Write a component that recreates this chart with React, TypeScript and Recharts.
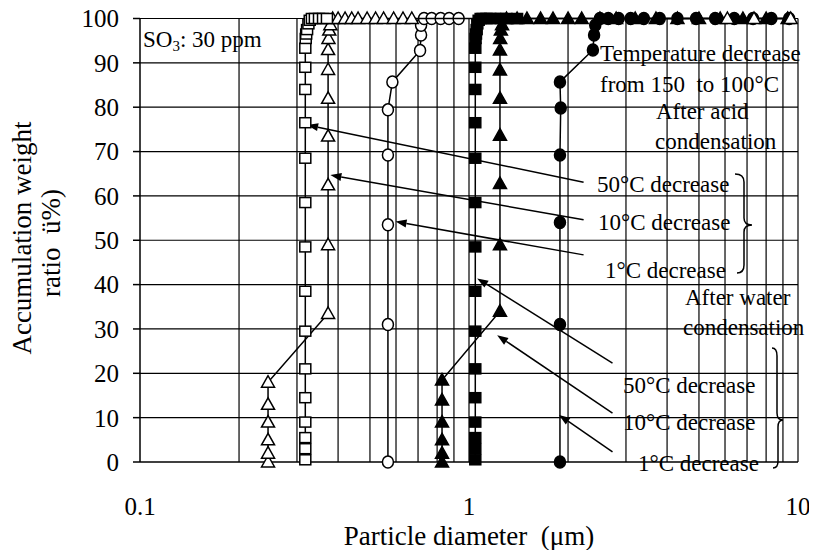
import React from "react";
import { ScatterChart, Scatter, XAxis, YAxis, ReferenceLine } from "recharts";

const FONT = "'Liberation Serif', 'Times New Roman', serif";

const xTicks = [0.1, 1, 10];
const yTicks = [0, 10, 20, 30, 40, 50, 60, 70, 80, 90, 100];
const xGrid = [0.2, 0.3, 0.4, 0.5, 0.6, 0.7, 0.8, 0.9, 1, 2, 3, 4, 5, 6, 7, 8, 9, 10];
const yGrid = [10, 20, 30, 40, 50, 60, 70, 80, 90, 100];

// after acid condensation (open markers)
const acid50X = [0.318, 0.318, 0.318, 0.318, 0.318, 0.318, 0.318, 0.318, 0.318, 0.318, 0.318, 0.318, 0.318, 0.318, 0.318, 0.319, 0.32, 0.322, 0.325, 0.328, 0.333, 0.34, 0.35, 0.36, 0.37];
const acid50Y = [0.5, 3, 5.5, 9, 14.5, 21, 29.5, 38.5, 48.5, 58.5, 68.5, 76.5, 84, 89, 93.3, 95.5, 96.5, 97.5, 98.8, 99.6, 100, 100, 100, 100, 100];

const acid10X = [0.245, 0.245, 0.245, 0.245, 0.245, 0.245, 0.373, 0.373, 0.373, 0.373, 0.373, 0.373, 0.373, 0.374, 0.376, 0.379, 0.385, 0.4, 0.42, 0.44, 0.46, 0.49, 0.52, 0.55, 0.59, 0.63, 0.67, 6.1, 7.35, 9.5];
const acid10Y = [0, 2, 5, 9, 13, 18, 33.5, 49, 62.5, 73.5, 82, 88.5, 93, 95.5, 97.4, 98.6, 100, 100, 100, 100, 100, 100, 100, 100, 100, 100, 100, 100, 100, 100];

const acid1X = [0.567, 0.567, 0.567, 0.567, 0.567, 0.585, 0.71, 0.715, 0.715, 0.73, 0.77, 0.82, 0.87, 0.93];
const acid1Y = [0, 31, 53.5, 69.2, 79.4, 85.7, 92.8, 96.3, 98.5, 100, 100, 100, 100, 100];

// after water condensation (filled markers)
const water50X = [1.045, 1.045, 1.045, 1.045, 1.045, 1.045, 1.045, 1.045, 1.045, 1.045, 1.045, 1.045, 1.045, 1.045, 1.045, 1.047, 1.05, 1.055, 1.06, 1.07, 1.085, 1.1, 1.13, 1.16, 1.2, 1.25, 1.3, 1.4];
const water50Y = [0.5, 3, 5.5, 9, 14.5, 21, 29.5, 38.5, 48.5, 58.5, 68.5, 76.5, 84, 89, 93.3, 95.5, 96.5, 97.5, 98.8, 99.6, 100, 100, 100, 100, 100, 100, 100, 100];

const water10X = [0.828, 0.828, 0.828, 0.828, 0.828, 0.828, 1.242, 1.242, 1.242, 1.242, 1.242, 1.242, 1.242, 1.244, 1.25, 1.26, 1.3, 1.4, 1.5, 1.65, 1.8, 2.0, 2.2, 2.5, 2.8, 3.2, 3.7, 4.3, 5, 5.8, 6.8, 8, 9.3];
const water10Y = [0, 2, 5, 9, 14, 18.5, 34, 49, 62.8, 73.7, 82, 88.4, 92.9, 95.5, 97.4, 98.6, 100, 100, 100, 100, 100, 100, 100, 100, 100, 100, 100, 100, 100, 100, 100, 100, 100];

const water1X = [1.89, 1.89, 1.89, 1.89, 1.9, 1.89, 2.38, 2.4, 2.42, 2.5, 2.65, 2.85, 3.1, 3.4, 3.8, 4.3, 4.9, 5.6, 6.4, 7.3, 8.3, 9.4];
const water1Y = [0, 31, 54, 69.2, 79.8, 85.7, 92.9, 96.3, 98.5, 100, 100, 100, 100, 100, 100, 100, 100, 100, 100, 100, 100, 100];

// annotation arrows: tail -> tip
const arrowTailX = [2.23, 2.23, 2.23, 2.73, 2.73, 2.73];
const arrowTailY = [63.1, 54.6, 46.7, 22.3, 11.0, 2.3];
const arrowTipX = [0.322, 0.379, 0.598, 1.059, 1.218, 1.877];
const arrowTipY = [76.0, 64.7, 54.2, 41.4, 28.6, 10.6];

const zip = (xs: number[], ys: number[]) => xs.map((x, i) => ({ x, y: ys[i] }));

const lineStyle = { stroke: "#000", strokeWidth: 1.5 };

const square = (fill: string) => (p: any) => (
  <rect x={p.cx - 5.5} y={p.cy - 5} width={11} height={10} fill={fill} stroke="#000" strokeWidth={1.5} />
);
const triangle = (fill: string) => (p: any) => (
  <polygon
    points={`${p.cx},${p.cy - 6.5} ${p.cx - 6.5},${p.cy + 5} ${p.cx + 6.5},${p.cy + 5}`}
    fill={fill}
    stroke="#000"
    strokeWidth={1.5}
  />
);
const circle = (fill: string) => (p: any) => (
  <ellipse cx={p.cx} cy={p.cy} rx={5.5} ry={6} fill={fill} stroke="#000" strokeWidth={1.5} />
);

function Arrow(props: any) {
  const { x1, y1, x2, y2 } = props;
  if ([x1, y1, x2, y2].some((v) => typeof v !== "number" || isNaN(v))) return null;
  const dx = x2 - x1;
  const dy = y2 - y1;
  const len = Math.sqrt(dx * dx + dy * dy) || 1;
  const ux = dx / len;
  const uy = dy / len;
  const hl = 11;
  const hw = 4;
  const bx = x2 - ux * hl;
  const by = y2 - uy * hl;
  return (
    <g>
      <line x1={x1} y1={y1} x2={bx} y2={by} stroke="#000" strokeWidth={1.5} />
      <polygon
        points={`${x2},${y2} ${bx - uy * hw},${by + ux * hw} ${bx + uy * hw},${by - ux * hw}`}
        fill="#000"
      />
    </g>
  );
}

const noteStyle = { fontFamily: FONT, fontSize: 23, fill: "#000" } as const;

export default function App() {
  const tickStyle = { fontFamily: FONT, fontSize: 25, fill: "#000" };
  return (
    <div style={{ position: "relative", width: 817, height: 550, marginTop: -8, marginLeft: -8 }}>
      <ScatterChart width={817} height={550} margin={{ top: 18.5, right: 19, left: 80, bottom: 48 }}>
        <XAxis
          dataKey="x"
          type="number"
          scale="log"
          domain={[0.1, 10]}
          ticks={xTicks}
          allowDataOverflow
          tickLine={false}
          tickSize={0}
          tickMargin={35}
          height={40}
          axisLine={{ stroke: "#000", strokeWidth: 1.5 }}
          tick={tickStyle}
        />
        <YAxis
          dataKey="y"
          type="number"
          domain={[0, 100]}
          ticks={yTicks}
          interval={0}
          width={60}
          tickSize={7}
          tickMargin={14}
          tickLine={{ stroke: "#000", strokeWidth: 1.5 }}
          axisLine={{ stroke: "#000", strokeWidth: 1.5 }}
          tick={tickStyle}
        />
        {xGrid.map((v) => (
          <ReferenceLine key={`gx${v}`} x={v} stroke="#000" strokeWidth={1.2} ifOverflow="visible" />
        ))}
        {yGrid.map((v) => (
          <ReferenceLine key={`gy${v}`} y={v} stroke="#000" strokeWidth={1.2} ifOverflow="visible" />
        ))}
        {arrowTailX.map((_, i) => (
          <ReferenceLine
            key={`ar${i}`}
            segment={[
              { x: arrowTailX[i], y: arrowTailY[i] },
              { x: arrowTipX[i], y: arrowTipY[i] },
            ]}
            shape={<Arrow />}
            ifOverflow="visible"
          />
        ))}
        <Scatter data={zip(water10X, water10Y)} shape={triangle("#000")} line={lineStyle} isAnimationActive={false} />
        <Scatter data={zip(water1X, water1Y)} shape={circle("#000")} line={lineStyle} isAnimationActive={false} />
        <Scatter data={zip(water50X, water50Y)} shape={square("#000")} line={lineStyle} isAnimationActive={false} />
        <Scatter data={zip(acid1X, acid1Y)} shape={circle("#fff")} line={lineStyle} isAnimationActive={false} />
        <Scatter data={zip(acid10X, acid10Y)} shape={triangle("#fff")} line={lineStyle} isAnimationActive={false} />
        <Scatter data={zip(acid50X, acid50Y)} shape={square("#fff")} line={lineStyle} isAnimationActive={false} />
      </ScatterChart>
      <svg
        width={817}
        height={550}
        xmlSpace="preserve"
        style={{ position: "absolute", left: 0, top: 0, pointerEvents: "none" }}
      >
        <text x={143} y={47} style={noteStyle}>
          SO<tspan fontSize={15} dy={4}>3</tspan>
          <tspan dy={-4}>: 30 ppm</tspan>
        </text>
        <g style={noteStyle} dominantBaseline="central">
          <text x={600} y={53}>Temperature decrease</text>
          <text x={600} y={84} xmlSpace="preserve">{"from 150  to 100°C"}</text>
          <text x={656} y={111}>After acid</text>
          <text x={655} y={141}>condensation</text>
          <text x={597} y={184}>50°C decrease</text>
          <text x={598} y={222}>10°C decrease</text>
          <text x={605} y={270}>1°C decrease</text>
          <text x={685} y={297}>After water</text>
          <text x={683} y={327}>condensation</text>
          <text x={623} y={385}>50°C decrease</text>
          <text x={623} y={422}>10°C decrease</text>
          <text x={638} y={463}>1°C decrease</text>
        </g>
        <path
          d="M735,174 Q744,174 744,182 L744,218 Q744,225 752,225 Q744,225 744,232 L744,265 Q744,273 737,273"
          fill="none"
          stroke="#000"
          strokeWidth={1.5}
        />
        <path
          d="M772,348 Q777,348 777,356 L777,413 Q777,420 783,420 Q778,420 778,427 L778,461 Q778,468 773,468"
          fill="none"
          stroke="#000"
          strokeWidth={1.5}
        />
        <g style={{ fontFamily: FONT, fontSize: 27, fill: "#000" }} textAnchor="middle" dominantBaseline="central">
          <text x={469} y={536} xmlSpace="preserve">{"Particle diameter  (μm)"}</text>
          <text x={22} y={238} transform="rotate(-90, 22, 238)">Accumulation weight</text>
          <text x={51} y={243} transform="rotate(-90, 51, 243)" xmlSpace="preserve">{"ratio  ü%)"}</text>
        </g>
      </svg>
    </div>
  );
}
